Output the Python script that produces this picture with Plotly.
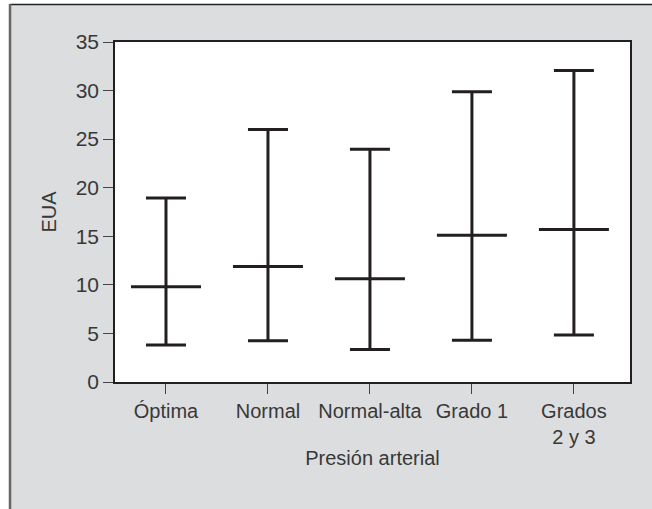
import plotly.graph_objects as go

categories = ["Óptima", "Normal", "Normal-alta", "Grado 1", "Grados<br>2 y 3"]
lower = [3.8, 4.25, 3.35, 4.3, 4.85]
median = [9.8, 11.9, 10.62, 15.1, 15.7]
upper = [18.95, 26.0, 23.97, 29.87, 32.07]
y_ticks = [0, 5, 10, 15, 20, 25, 30, 35]

dark = "#231f20"
text_col = "#383838"
font_family = "Liberation Sans, Arial, sans-serif"

err_plus = [u - m for u, m in zip(upper, median)]
err_minus = [m - l for m, l in zip(median, lower)]

fig = go.Figure()
fig.add_trace(go.Scatter(
    x=categories, y=median, mode="markers",
    marker=dict(symbol="line-ew", size=50, color=dark,
                line=dict(width=3, color=dark)),
    error_y=dict(type="data", symmetric=False, array=err_plus,
                 arrayminus=err_minus, width=20, thickness=3, color=dark),
    showlegend=False, hoverinfo="skip",
))

W, H = 652, 509
ml, mr, mt, mb = 115, 22, 42, 127
pw, ph = W - ml - mr, H - mt - mb


def px_x(x):
    return (x - ml) / pw


def px_y(y):
    return (H - mb - y) / ph


shapes = [
    dict(type="rect", xref="paper", yref="paper", layer="below",
         x0=px_x(10), x1=px_x(W + 10), y0=px_y(H + 10), y1=px_y(4),
         fillcolor="#dcdddf", line=dict(width=0)),
    dict(type="rect", xref="paper", yref="paper", layer="below",
         x0=0, x1=1, y0=0, y1=1, fillcolor="white", line=dict(width=0)),
    dict(type="line", xref="paper", yref="paper", layer="below",
         x0=px_x(10), x1=px_x(W + 10), y0=px_y(4.5), y1=px_y(4.5),
         line=dict(color="#222222", width=1.5)),
    dict(type="line", xref="paper", yref="paper", layer="below",
         x0=px_x(10), x1=px_x(10), y0=px_y(H + 10), y1=px_y(4),
         line=dict(color="#666666", width=2.5)),
]

fig.update_layout(
    width=W, height=H, autosize=False,
    margin=dict(l=ml, r=mr, t=mt, b=mb, pad=0),
    paper_bgcolor="white", plot_bgcolor="white",
    font=dict(family=font_family, size=20, color=text_col),
    shapes=shapes,
    xaxis=dict(
        type="category", range=[-0.5, 4.55],
        showline=True, linecolor=dark, linewidth=1.5, mirror=True,
        ticks="outside", ticklen=10, tickcolor="#444444", tickwidth=1.2,
        showgrid=False, zeroline=False, automargin=False,
        tickfont=dict(size=20, color=text_col),
        title=dict(text="Presión arterial", font=dict(size=20, color=text_col), standoff=4),
    ),
    yaxis=dict(
        range=[0, 35], tickvals=y_ticks, ticktext=[str(v) for v in y_ticks],
        showline=True, linecolor=dark, linewidth=1.5, mirror=True,
        ticks="outside", ticklen=10, tickcolor="#444444", tickwidth=1.2,
        showgrid=False, zeroline=False, automargin=False,
        tickfont=dict(size=21, color=text_col),
        title=dict(text="EUA", font=dict(size=20, color=text_col), standoff=14),
    ),
)

fig.write_html("out.html", config={"displayModeBar": False},
               post_script="document.body.style.margin='0';document.body.style.overflow='hidden';")
